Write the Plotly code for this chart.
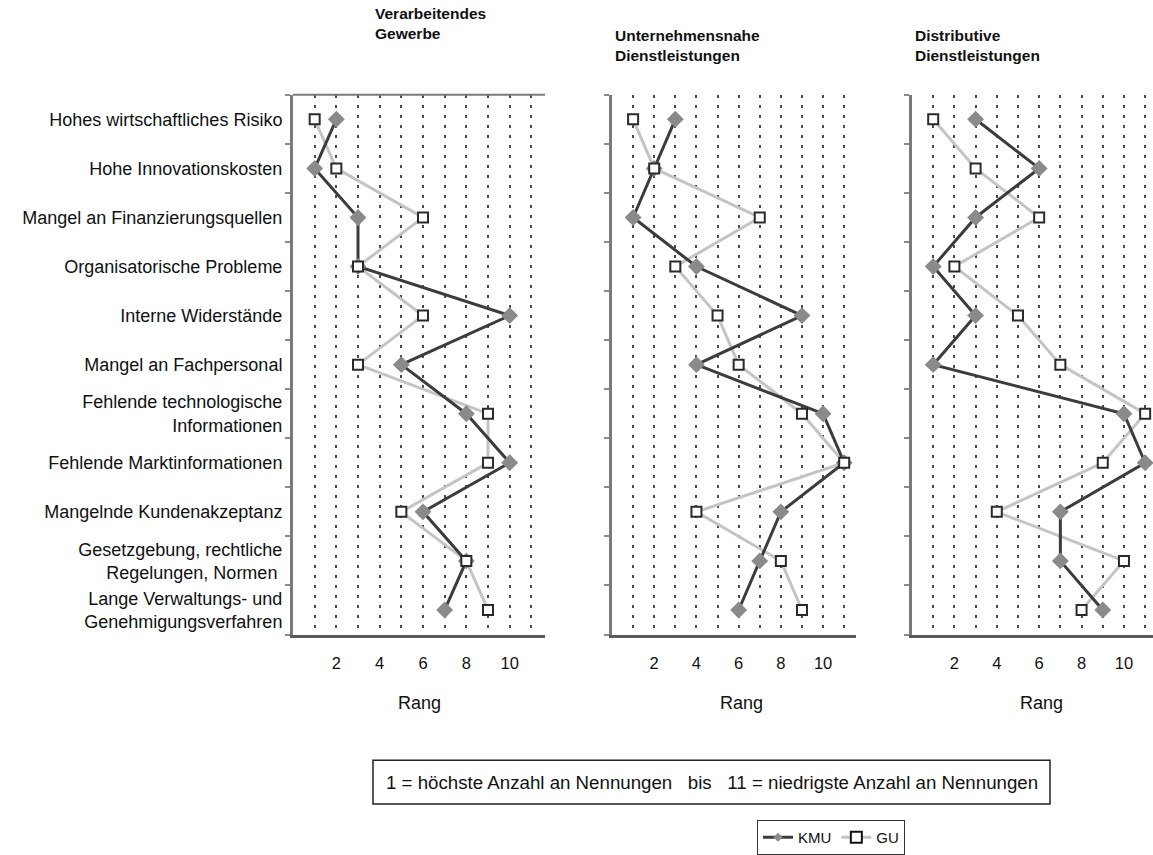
import plotly.graph_objects as go

W, H = 1153, 855

categories = [
    "Hohes wirtschaftliches Risiko",
    "Hohe Innovationskosten",
    "Mangel an Finanzierungsquellen",
    "Organisatorische Probleme",
    "Interne Widerstände",
    "Mangel an Fachpersonal",
    "Fehlende technologische Informationen",
    "Fehlende Marktinformationen",
    "Mangelnde Kundenakzeptanz",
    "Gesetzgebung, rechtliche Regelungen, Normen",
    "Lange Verwaltungs- und Genehmigungsverfahren",
]
category_labels = [
    "Hohes wirtschaftliches Risiko",
    "Hohe Innovationskosten",
    "Mangel an Finanzierungsquellen",
    "Organisatorische Probleme",
    "Interne Widerstände",
    "Mangel an Fachpersonal",
    "Fehlende technologische<br>Informationen",
    "Fehlende Marktinformationen",
    "Mangelnde Kundenakzeptanz",
    "Gesetzgebung, rechtliche<br>Regelungen, Normen ",
    "Lange Verwaltungs- und<br>Genehmigungsverfahren",
]

panel_titles = [
    "Verarbeitendes<br>Gewerbe",
    "Unternehmensnahe<br>Dienstleistungen",
    "Distributive<br>Dienstleistungen",
]

# Rang values (1 = most mentions ... 11 = fewest)
kmu_verarbeitendes = [2, 1, 3, 3, 10, 5, 8, 10, 6, 8, 7]
gu_verarbeitendes = [1, 2, 6, 3, 6, 3, 9, 9, 5, 8, 9]
kmu_unternehmensnahe = [3, 2, 1, 4, 9, 4, 10, 11, 8, 7, 6]
gu_unternehmensnahe = [1, 2, 7, 3, 5, 6, 9, 11, 4, 8, 9]
kmu_distributive = [3, 6, 3, 1, 3, 1, 10, 11, 7, 7, 9]
gu_distributive = [1, 3, 6, 2, 5, 7, 11, 9, 4, 10, 8]

x_tickvals = [2, 4, 6, 8, 10]
series_names = ["KMU", "GU"]
axis_title = "Rang"
note_text = ("1 = höchste Anzahl an Nennungen\u00a0\u00a0\u00a0bis\u00a0\u00a0\u00a0"
             "11 = niedrigste Anzahl an Nennungen")

panels = [
    (kmu_verarbeitendes, gu_verarbeitendes),
    (kmu_unternehmensnahe, gu_unternehmensnahe),
    (kmu_distributive, gu_distributive),
]

FONT = "Liberation Sans, Arial, sans-serif"
KMU_LINE = "#3c3c3c"
KMU_MARK = "#8a8a8a"
GU_LINE = "#c4c4c4"
GU_MARK_EDGE = "#2a2a2a"
GRID = "#4a4a4a"

# pixel layout (left, right, range max)
px_left = [293, 612, 912]
px_right = [545, 856, 1153]
x_max = [11.63, 11.56, 11.37]
y_top_px, y_bot_px = 95, 636

fig = go.Figure()

for i, (kmu, gu) in enumerate(panels):
    xa = "x" if i == 0 else f"x{i+1}"
    ya = "y" if i == 0 else f"y{i+1}"
    fig.add_trace(go.Scatter(
        x=gu, y=categories, mode="lines", xaxis=xa, yaxis=ya,
        line=dict(color=GU_LINE, width=3), showlegend=False, hoverinfo="skip"))
    fig.add_trace(go.Scatter(
        x=kmu, y=categories, mode="lines+markers", xaxis=xa, yaxis=ya,
        line=dict(color=KMU_LINE, width=3),
        marker=dict(symbol="diamond", size=13, color=KMU_MARK, line=dict(width=0)),
        showlegend=False, name=series_names[0]))
    fig.add_trace(go.Scatter(
        x=gu, y=categories, mode="markers", xaxis=xa, yaxis=ya,
        marker=dict(symbol="square", size=10, color="white",
                    line=dict(color=GU_MARK_EDGE, width=2)),
        showlegend=False, name=series_names[1]))

# legend entries
fig.add_trace(go.Scatter(
    x=[None], y=[None], mode="lines+markers", name=series_names[0],
    line=dict(color=KMU_LINE, width=3),
    marker=dict(symbol="diamond", size=7, color=KMU_MARK)))
fig.add_trace(go.Scatter(
    x=[None], y=[None], mode="lines+markers", name=series_names[1],
    line=dict(color=GU_LINE, width=3),
    marker=dict(symbol="square", size=11, color="white",
                line=dict(color="#111", width=2))))

layout = dict(
    width=W, height=H,
    margin=dict(l=0, r=0, t=0, b=0),
    paper_bgcolor="white", plot_bgcolor="white",
    font=dict(family=FONT, size=17, color="#111"),
    showlegend=True,
    legend=dict(orientation="h", x=757 / W, y=1 - 822 / H,
                xanchor="left", yanchor="top",
                bordercolor="#333", borderwidth=1,
                font=dict(size=15, family=FONT), itemwidth=30,
                tracegroupgap=0),
)

for i in range(3):
    xk = "xaxis" if i == 0 else f"xaxis{i+1}"
    yk = "yaxis" if i == 0 else f"yaxis{i+1}"
    layout[xk] = dict(
        domain=[px_left[i] / W, px_right[i] / W],
        range=[0, x_max[i]],
        tickvals=x_tickvals,
        showgrid=True, gridcolor=GRID, gridwidth=2, griddash="3px,7px",
        minor=dict(dtick=1, tick0=0, showgrid=True, gridcolor=GRID,
                   gridwidth=2, griddash="3px,7px"),
        zeroline=False,
        showline=True, linecolor="#5a5a5a", linewidth=3,
        ticks="", ticklabelstandoff=12,
        tickfont=dict(size=16.5, family=FONT),
        anchor="y" if i == 0 else f"y{i+1}",
        fixedrange=True,
    )
    layout[yk] = dict(
        domain=[1 - y_bot_px / H, 1 - y_top_px / H],
        type="category",
        categoryorder="array", categoryarray=categories,
        range=[len(categories) - 0.5, -0.5],
        tickvals=categories,
        ticktext=category_labels,
        showticklabels=(i == 0),
        tickson="boundaries", ticks="outside", ticklen=5, tickcolor="#8a8a8a",
        tickwidth=2, ticklabelstandoff=4,
        showgrid=False, zeroline=False,
        showline=True, linecolor="#7a7a7a", linewidth=3,
        tickfont=dict(size=18, family=FONT),
        anchor="x" if i == 0 else f"x{i+1}",
        fixedrange=True,
    )

fig.update_layout(**layout)

shapes = [
    dict(type="line", xref="x domain", yref="y domain", x0=0, x1=1, y0=1, y1=1,
         line=dict(color="#7a7a7a", width=2)),
    dict(type="rect", xref="paper", yref="paper",
         x0=373 / W, x1=1050 / W, y0=1 - 806 / H, y1=1 - 762 / H,
         line=dict(color="#222", width=1.5), fillcolor="rgba(0,0,0,0)"),
]
fig.update_layout(shapes=shapes)

title_x = [373, 613, 913]
title_top = [3, 25, 25]
rang_x = [419, 741, 1041]
annotations = []
for i in range(3):
    annotations.append(dict(
        text="<b>" + panel_titles[i] + "</b>", xref="paper", yref="paper",
        x=title_x[i] / W, y=1 - title_top[i] / H, xanchor="left", yanchor="top",
        align="left", showarrow=False, font=dict(size=15.5, family=FONT, color="#111")))
    annotations.append(dict(
        text=axis_title, xref="paper", yref="paper",
        x=rang_x[i] / W, y=1 - 705 / H, xanchor="center", yanchor="middle",
        showarrow=False, font=dict(size=18, family=FONT, color="#111")))
annotations.append(dict(
    text=note_text, xref="paper", yref="paper",
    x=(373 + 1050) / 2 / W, y=1 - 784 / H, xanchor="center", yanchor="middle",
    showarrow=False, font=dict(size=18.7, family=FONT, color="#111")))
fig.update_layout(annotations=annotations)

fig.write_html("out.html", config={"displayModeBar": False},
               post_script="document.body.style.margin='0px';")
